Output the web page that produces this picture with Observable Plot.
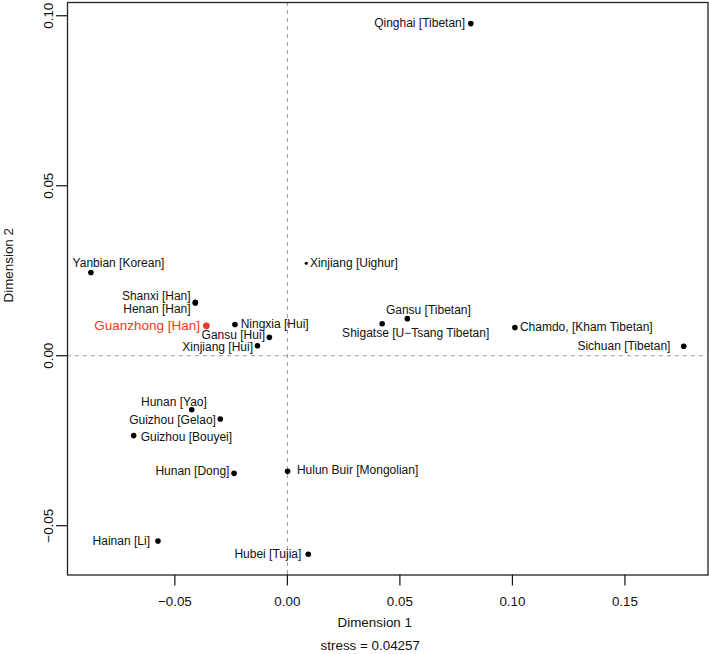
<!DOCTYPE html>
<html>
<head>
<meta charset="utf-8">
<script src="https://cdn.jsdelivr.net/npm/d3@7"></script>
<script src="https://cdn.jsdelivr.net/npm/@observablehq/plot@0.6"></script>
<style>
  html, body { margin: 0; padding: 0; background: #fff; }
  #chart svg { display: block; }
</style>
</head>
<body>
<div id="chart"></div>
<script>
// ---- data ----
const populations = [
  "Qinghai [Tibetan]", "Yanbian [Korean]", "Xinjiang [Uighur]", "Shanxi [Han]", "Henan [Han]",
  "Guanzhong [Han]", "Ningxia [Hui]", "Gansu [Hui]", "Xinjiang [Hui]", "Gansu [Tibetan]",
  "Shigatse [U\u2212Tsang Tibetan]", "Chamdo, [Kham Tibetan]", "Sichuan [Tibetan]", "Hunan [Yao]",
  "Guizhou [Gelao]", "Guizhou [Bouyei]", "Hunan [Dong]", "Hulun Buir [Mongolian]", "Hainan [Li]", "Hubei [Tujia]"
];
const dimension1 = [
  0.0815, -0.0873, 0.0084, -0.0409, -0.0409,
  -0.0360, -0.0233, -0.0080, -0.0133, 0.0533,
  0.0421, 0.1011, 0.1761, -0.0425,
  -0.0298, -0.0683, -0.0237, 0.0001, -0.0575, 0.0093
];
const dimension2 = [
  0.0977, 0.0245, 0.0272, 0.0157, 0.0155,
  0.0088, 0.0092, 0.0054, 0.0029, 0.0109,
  0.0094, 0.0083, 0.0028, -0.0159,
  -0.0186, -0.0235, -0.0346, -0.0340, -0.0545, -0.0584
];
// point kind: "focus" = highlighted study population, "small" = small marker
const pointKind = [
  "normal", "normal", "small", "normal", "normal",
  "focus", "normal", "normal", "normal", "normal",
  "normal", "normal", "normal", "normal",
  "normal", "normal", "normal", "normal", "normal", "normal"
];
const xTicks = [-0.05, 0.00, 0.05, 0.10, 0.15];
const yTicks = [-0.05, 0.00, 0.05, 0.10];
const xLabel = "Dimension 1";
const yLabel = "Dimension 2";
const caption = "stress = 0.04257";

// ---- label layout (anchor, pixel offsets from the point) ----
const labelLayout = [
  ["end", -5.7, 0], ["start", -18.3, -9.4], ["start", 3.6, 0], ["end", -4.7, -5.7], ["end", -4.7, 6.6],
  ["end", -6.4, 0], ["start", 5.7, -0.4], ["end", -4.4, -2.6], ["end", -4.4, 1.4], ["start", -21.4, -8.7],
  ["start", -40, 9], ["start", 5, 0], ["end", -13.3, 0], ["start", -50.7, -8],
  ["end", -4.4, 0.7], ["start", 7, 1.7], ["end", -4.6, -1.7], ["start", 9.3, -0.7], ["end", -8, 0], ["end", -7, 0]
];

const points = populations.map((name, i) => ({
  name, d1: dimension1[i], d2: dimension2[i], kind: pointKind[i]
}));

const RED = "#ee3b24";
const fmt = d3.format(".2f");
const FONT = "'Liberation Sans', Arial, Helvetica, sans-serif";

const labelMarks = points.map((p, i) => {
  const [anchor, dx, dy] = labelLayout[i];
  return Plot.text([p], {
    x: "d1", y: "d2", text: "name",
    textAnchor: anchor, dx, dy,
    fill: p.kind === "focus" ? RED : "#111",
    fontSize: p.kind === "focus" ? 13.5 : 12
  });
});

const chart = Plot.plot({
  width: 709,
  height: 654,
  marginLeft: 67,
  marginRight: 1.5,
  marginTop: 2,
  marginBottom: 79.5,
  style: { fontFamily: FONT, fontSize: "12px", background: "#fff", color: "#111" },
  x: { domain: [-0.0977, 0.1869], label: null },
  y: { domain: [-0.0645, 0.1039], label: null },
  marks: [
    Plot.ruleX([0], { stroke: "#9a9a9a", strokeDasharray: "4,4", strokeWidth: 1 }),
    Plot.ruleY([0], { stroke: "#9a9a9a", strokeDasharray: "4,4", strokeWidth: 1 }),
    Plot.axisX(xTicks, { tickSize: 11, tickPadding: 10, tickFormat: fmt, fontSize: 13.4, stroke: "#111", strokeWidth: 1.2, label: null }),
    Plot.axisY(yTicks, { tickSize: 11, tickPadding: 3.5, tickRotate: -90, tickFormat: fmt, fontSize: 13.4, stroke: "#111", strokeWidth: 1.2, label: null }),
    Plot.frame({ stroke: "#222", strokeWidth: 1.3 }),
    Plot.dot(points.filter(d => d.kind === "normal"), { x: "d1", y: "d2", r: 2.8, fill: "#000", stroke: "none" }),
    Plot.dot(points.filter(d => d.kind === "small"), { x: "d1", y: "d2", r: 1.6, fill: "#000", stroke: "none" }),
    Plot.dot(points.filter(d => d.kind === "focus"), { x: "d1", y: "d2", r: 3.4, fill: RED, stroke: "none" }),
    ...labelMarks,
    Plot.text([xLabel], { frameAnchor: "bottom", dx: -13, dy: 51.5, fontSize: 13.4, fill: "#111" }),
    Plot.text([caption], { frameAnchor: "bottom", dx: -17.5, dy: 74.5, fontSize: 13.4, fill: "#111" }),
    Plot.text([yLabel], { frameAnchor: "left", dx: -59.2, dy: 13.7, rotate: -90, fontSize: 13.4, fill: "#111" })
  ]
});
document.getElementById("chart").appendChild(chart);
</script>
</body>
</html>
